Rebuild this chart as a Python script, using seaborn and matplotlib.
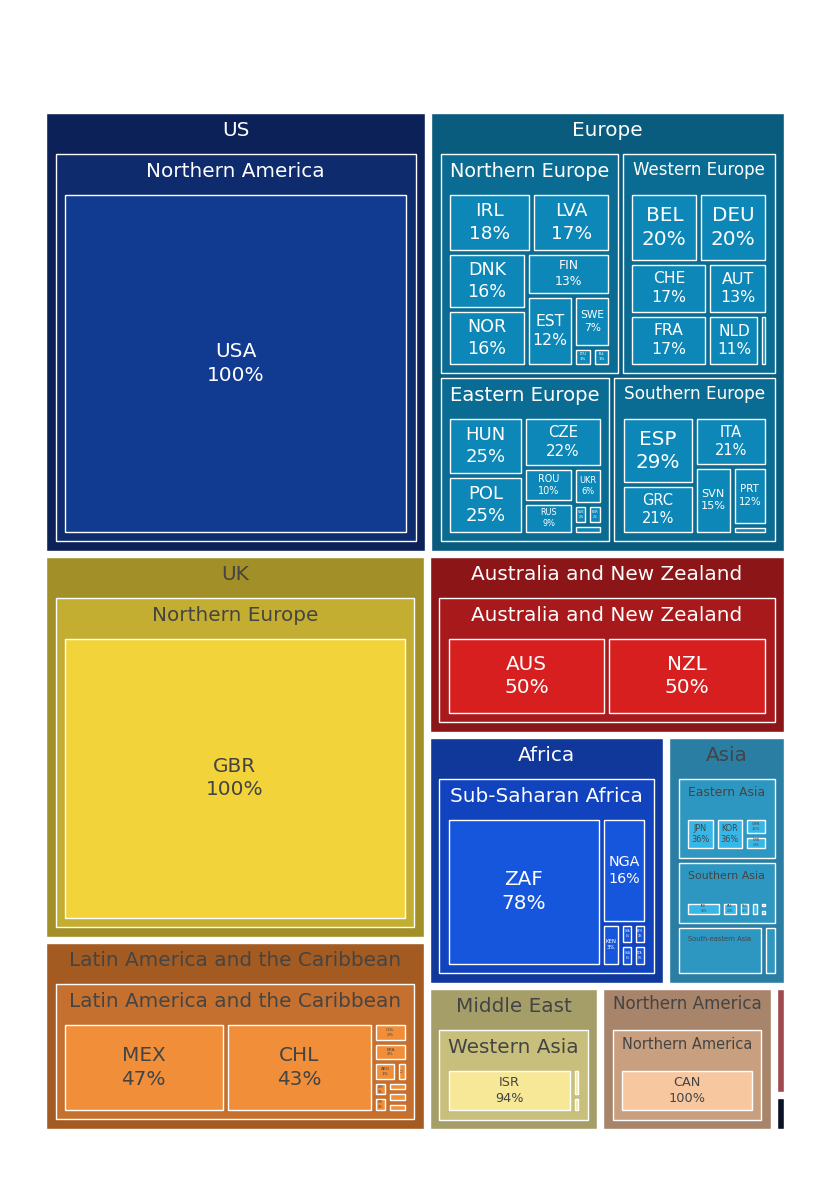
import numpy as np
import pandas as pd
import seaborn as sns
import matplotlib.pyplot as plt
from matplotlib.patches import Rectangle
from matplotlib.textpath import TextPath
from matplotlib.font_manager import FontProperties

region = (["US"]
          + ["Europe"] * 31
          + ["UK"]
          + ["Australia and New Zealand"] * 2
          + ["Africa"] * 7
          + ["Asia"] * 16
          + ["Latin America and the Caribbean"] * 11
          + ["Middle East"] * 3
          + ["Northern America"]
          + ["Oceania", "Unknown"])
subregion = (["Northern America"]
             + ["Northern Europe"] * 9 + ["Western Europe"] * 7
             + ["Eastern Europe"] * 9 + ["Southern Europe"] * 6
             + ["Northern Europe"]
             + ["Australia and New Zealand"] * 2
             + ["Sub-Saharan Africa"] * 7
             + ["Eastern Asia"] * 4 + ["Southern Asia"] * 6
             + ["South-eastern Asia"] * 5 + ["Central Asia"]
             + ["Latin America and the Caribbean"] * 11
             + ["Western Asia"] * 3
             + ["Northern America"]
             + ["Melanesia", "Unknown"])
country = (["USA"]
           + ["IRL", "LVA", "DNK", "NOR", "FIN", "EST", "SWE", "LTU", "ISL"]
           + ["BEL", "DEU", "CHE", "FRA", "AUT", "NLD", "LUX"]
           + ["HUN", "POL", "CZE", "ROU", "RUS", "UKR", "SVK", "BGR", "BLR"]
           + ["ESP", "GRC", "ITA", "SVN", "PRT", "HRV"]
           + ["GBR"]
           + ["AUS", "NZL"]
           + ["ZAF", "NGA", "KEN", "GHA", "ETH", "UGA", "TZA"]
           + ["JPN", "KOR", "CHN", "TWN"]
           + ["IND", "PAK", "BGD", "LKA", "NPL", "IRN"]
           + ["SGP", "PHL", "MYS", "VNM", "THA", "KAZ"]
           + ["MEX", "CHL", "COL", "BRA", "ARG", "PER", "URY", "CRI", "ECU", "PAN", "GTM"]
           + ["ISR", "TUR", "ARE"]
           + ["CAN"]
           + ["FJI", "UNK"])
value = ([225]
         + [11.4, 10.8, 10.2, 10.2, 8.3, 7.6, 4.4, 0.8, 0.8]
         + [11.1, 11.1, 9.4, 9.4, 7.3, 6.2, 0.9]
         + [11.3, 11.3, 10.0, 4.5, 4.0, 2.7, 0.7, 0.7, 0.7]
         + [12.7, 9.2, 9.2, 6.6, 5.3, 0.8]
         + [195]
         + [43, 43]
         + [61.3, 12.6, 2.2, 0.73, 0.73, 0.73, 0.73]
         + [6.05, 6.05, 2.5, 2.2]
         + [5.8, 2.6, 2.0, 1.4, 0.65, 0.65]
         + [3.0, 2.2, 1.5, 1.0, 1.0, 1.3]
         + [45.8, 41.9, 2.1, 2.0, 1.4, 0.65, 0.65, 0.65, 0.65, 0.65, 0.65]
         + [31.5, 1.3, 0.7]
         + [33.4]
         + [1.95, 0.65])

# colours per top-level region: region box, subregion box, country box, text
region_names = ["US", "Europe", "UK", "Australia and New Zealand", "Africa", "Asia",
                "Latin America and the Caribbean", "Middle East", "Northern America",
                "Oceania", "Unknown"]
box_colors = ["#0b2157", "#0a5c7e", "#a38f27", "#8c1518", "#10379a", "#2a7ea3",
              "#a35b22", "#a69e68", "#a8846a", "#9e4a4e", "#0b1226"]
sub_colors = ["#0e2b6d", "#0b6c93", "#c4ae31", "#a8191c", "#1243bf", "#2e97c1",
              "#c6702f", "#c9bf7d", "#c8a080", "#b85a5e", "#101a33"]
leaf_colors = ["#113b91", "#0c87b7", "#f2d43a", "#d81f20", "#1656dd", "#36b7e8",
               "#f08e3a", "#f7e897", "#f7c8a0", "#d06a6e", "#16234a"]
text_colors = ["white", "white", "#444444", "white", "white", "#444444",
               "#444444", "#444444", "#444444", "white", "white"]

df = pd.DataFrame({"region": region, "subregion": subregion,
                   "country": country, "value": value})

sns.set_theme(style="white")
plt.rcParams["font.family"] = ["DejaVu Sans"]
FP = FontProperties(family="DejaVu Sans")


def text_em(s):
    return TextPath((0, 0), s, size=100, prop=FP).get_extents().width / 100


def by_value(nodes):
    return sorted(nodes, key=lambda n: -n["value"])


# build the hierarchy
tops = []
for r, g in df.groupby("region", sort=False):
    subs = []
    for s, gs in g.groupby("subregion", sort=False):
        leaves = [dict(label=c, value=v, children=[], region=r)
                  for c, v in zip(gs.country, gs.value)]
        subs.append(dict(label=s, value=gs.value.sum(), children=by_value(leaves), region=r))
    tops.append(dict(label=r, value=g.value.sum(), children=by_value(subs), region=r))
tops = by_value(tops)


def squarify(vals, x0, y0, x1, y1, ratio=1.0):
    # d3-hierarchy style squarified tiling
    rects = []
    n = len(vals)
    if x1 - x0 <= 0 or y1 - y0 <= 0:
        return [(x0, y0, x1, y1)] * n
    rem = float(sum(vals))
    i0 = 0
    while i0 < n:
        dx, dy = x1 - x0, y1 - y0
        i1 = i0 + 1
        s = vals[i0]
        mn = mx = s
        alpha = max(dy / dx, dx / dy) / (rem * ratio)
        beta = s * s * alpha
        best = max(mx / beta, beta / mn)
        while i1 < n:
            v = vals[i1]
            s2 = s + v
            beta = s2 * s2 * alpha
            r = max(max(mx, v) / beta, beta / min(mn, v))
            if r > best:
                break
            s, mn, mx, best = s2, min(mn, v), max(mx, v), r
            i1 += 1
        if dx < dy:
            yb = y0 + dy * s / rem
            xx = x0
            for i in range(i0, i1):
                w = dx * vals[i] / s
                rects.append((xx, y0, xx + w, yb))
                xx += w
            y0 = yb
        else:
            xb = x0 + dx * s / rem
            yy = y0
            for i in range(i0, i1):
                h = dy * vals[i] / s
                rects.append((x0, yy, xb, yy + h))
                yy += h
            x0 = xb
        rem -= s
        i0 = i1
    return rects


PAD_SIDE, PAD_TOP = 9.5, 41
GAP = [6, 5, 5, 5]


def shrink(a, b, c, d, p):
    a, b, c, d = a + p, b + p, c - p, d - p
    if c < a:
        a = c = (a + c) / 2
    if d < b:
        b = d = (b + d) / 2
    return a, b, c, d


placed = []


def place(nodes, area, depth, parent):
    g = GAP[depth] / 2
    rects = squarify([n["value"] for n in nodes], *area)
    for node, rc in zip(nodes, rects):
        x0, y0, x1, y1 = shrink(*rc, g)
        placed.append((node, depth, parent, x0, y0, x1, y1))
        if node["children"]:
            gi = GAP[depth + 1] / 2
            inner = shrink(x0 + PAD_SIDE - gi, y0 + PAD_TOP - gi,
                           x1 - PAD_SIDE + gi, y1 - PAD_SIDE + gi, 0)
            place(node["children"], inner, depth + 1, node)


root = (46, 113, 784, 1129)
place(tops, (root[0] - GAP[0] / 2, root[1] - GAP[0] / 2,
             root[2] + GAP[0] / 2, root[3] + GAP[0] / 2), 0, None)

fig = plt.figure(figsize=(8.3, 11.77), dpi=100)
ax = fig.add_axes([0, 0, 1, 1])
ax.set_xlim(0, 830)
ax.set_ylim(1177, 0)
ax.axis("off")

PX2PT = 72 / 100
MAX_PX = 20

for node, depth, parent, x0, y0, x1, y1 in placed:
    w, h = x1 - x0, y1 - y0
    if w < 0.5 or h < 0.5:
        continue
    k = region_names.index(node["region"])
    color = [box_colors, sub_colors, leaf_colors][depth][k]
    ax.add_patch(Rectangle((x0, y0), w, h, facecolor=color, edgecolor="white", lw=1.0))
    tc = text_colors[k]
    if node["children"]:
        px = min(MAX_PX, (w - 21) / text_em(node["label"]))
        if px >= 2:
            ax.text((x0 + x1) / 2, y0 + 8.5 + 0.73 * px, node["label"], ha="center",
                    va="baseline", fontsize=px * PX2PT, color=tc)
    else:
        pct = 100 * node["value"] / parent["value"]
        lines = [node["label"], f"{round(pct):.0f}%"]
        em = max(text_em(s) for s in lines)
        aw = w - min(10, 0.3 * w)
        ah = h - min(4, 0.2 * h)
        px = min(MAX_PX, aw / em, ah / 2.75)
        if px >= 2:
            ax.text((x0 + x1) / 2, (y0 + y1) / 2, "\n".join(lines), ha="center",
                    va="center", linespacing=1.3, fontsize=px * PX2PT, color=tc)

fig.savefig("out.png", dpi=100)
